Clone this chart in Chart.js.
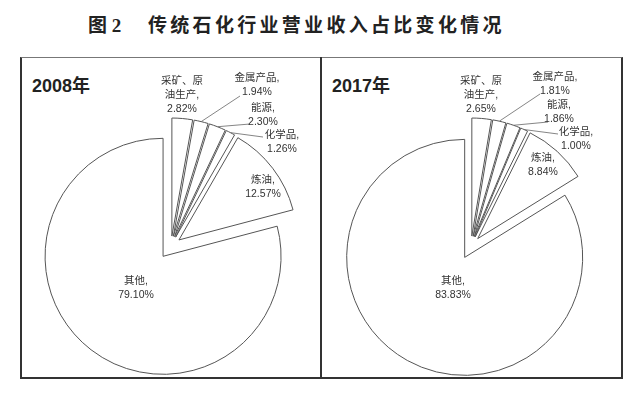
<!DOCTYPE html>
<html>
<head>
<meta charset="utf-8">
<script src="https://cdn.jsdelivr.net/npm/chart.js@4.4.1/dist/chart.umd.min.js"></script>
<style>
  body { margin: 0; background: #fff; }
  #wrap { position: relative; width: 640px; height: 393px; overflow: hidden; background: #fff; }
  .title { position: absolute; top: 15px; font: bold 19px "Liberation Serif", "Noto Sans CJK SC", serif; color: #222; line-height: 22px; white-space: nowrap; }
  .year { position: absolute; top: 76px; font: bold 18px "Liberation Sans", "Noto Sans CJK SC", sans-serif; color: #222; line-height: 20px; }
  .box { position: absolute; left: 20px; top: 57px; width: 603px; height: 322px; box-sizing: border-box;
         border: 2px solid #333; border-top: 1px solid #777; }
  .mid { position: absolute; left: 320px; top: 57px; width: 2px; height: 322px; background: #333; }
  canvas { position: absolute; left: 0; top: 0; }
</style>
</head>
<body>
<div id="wrap">
  <div class="title" style="left:88px">图&nbsp;2</div>
  <div class="title" style="left:148px; letter-spacing:3.3px">传统石化行业营业收入占比变化情况</div>
  <div class="box"></div>
  <div class="mid"></div>
  <div class="year" style="left:32px">2008年</div>
  <div class="year" style="left:332px">2017年</div>
  <canvas id="pie2008" width="640" height="393"></canvas>
  <canvas id="pie2017" width="640" height="393"></canvas>
</div>
<script>
// shares of revenue, in %, clockwise from 12 o'clock
const categories = ['采矿、原油生产', '金属产品', '能源', '化学品', '炼油', '其他'];
const share2008 = [2.82, 1.94, 2.30, 1.26, 12.57, 79.10];
const share2017 = [2.65, 1.81, 1.86, 1.00, 8.84, 83.83];

// how far each slice is pulled out from the centre (px)
const explode = [10, 10, 10, 10, 10, 13];

// label placement: centre of first text line, and start of leader line (null = none)
const layout2008 = {
  text: [[182, 81], [257, 78], [263, 108], [282, 135], [263, 180], [136, 281]],
  leader: [null, [240, 96], [250, 124], [263, 137], null, null]
};
const layout2017 = {
  text: [[481, 81], [555, 77], [559, 105], [576, 132], [543, 158], [453, 281]],
  leader: [null, [540, 94], [548, 122], [558, 134], null, null]
};

function labelLines(name, value) {
  const lines = [];
  for (let i = 0; i < name.length; i += 4) lines.push(name.slice(i, i + 4));
  lines[lines.length - 1] += ',';
  lines.push(value.toFixed(2) + '%');
  return lines;
}

const explodePlugin = {
  id: 'explode',
  afterDatasetUpdate(chart) {
    chart.getDatasetMeta(0).data.forEach((arc, i) => {
      const mid = (arc.startAngle + arc.endAngle) / 2;
      arc.x += Math.cos(mid) * explode[i];
      arc.y += Math.sin(mid) * explode[i];
    });
  }
};

const labelPlugin = {
  id: 'sliceLabels',
  afterDatasetsDraw(chart, args, opts) {
    const ctx = chart.ctx;
    const values = chart.data.datasets[0].data;
    const arcs = chart.getDatasetMeta(0).data;
    ctx.save();
    ctx.strokeStyle = '#666';
    ctx.lineWidth = 0.8;
    arcs.forEach((arc, i) => {
      const start = opts.layout.leader[i];
      if (!start) return;
      const mid = (arc.startAngle + arc.endAngle) / 2;
      ctx.beginPath();
      ctx.moveTo(start[0], start[1]);
      ctx.lineTo(arc.x + Math.cos(mid) * arc.outerRadius, arc.y + Math.sin(mid) * arc.outerRadius);
      ctx.stroke();
    });
    ctx.fillStyle = '#333';
    ctx.font = '10.5px "Liberation Sans", "Noto Sans CJK SC", sans-serif';
    ctx.textAlign = 'center';
    ctx.textBaseline = 'middle';
    chart.data.labels.forEach((name, i) => {
      const [x, y] = opts.layout.text[i];
      labelLines(name, values[i]).forEach((line, k) => ctx.fillText(line, x, y + k * 14));
    });
    ctx.restore();
  }
};

function drawPie(id, values, layout, padding) {
  new Chart(document.getElementById(id), {
    type: 'pie',
    data: {
      labels: categories,
      datasets: [{
        data: values,
        backgroundColor: '#fff',
        borderColor: '#555',
        borderWidth: 1,
        hoverOffset: 0
      }]
    },
    options: {
      responsive: false,
      animation: false,
      radius: 118,
      layout: { padding: padding },
      events: [],
      plugins: {
        legend: { display: false },
        tooltip: { enabled: false },
        sliceLabels: { layout: layout }
      }
    },
    plugins: [explodePlugin, labelPlugin]
  });
}

drawPie('pie2008', share2008, layout2008, { left: 0, right: 298, top: 99, bottom: 0 });
drawPie('pie2017', share2017, layout2017, { left: 302, right: 0, top: 99, bottom: 0 });
</script>
</body>
</html>
